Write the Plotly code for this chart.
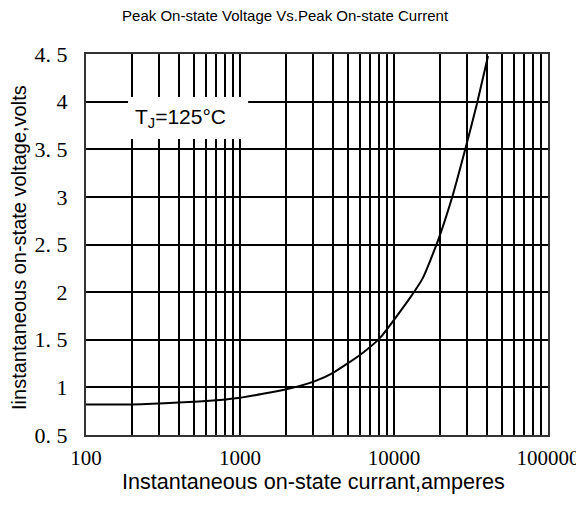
import plotly.graph_objects as go

current = [100, 200, 400, 740, 1000, 2000, 3070, 4020, 6010, 8110, 12700, 15400, 19300, 23800, 28900, 34600, 40800]
voltage = [0.82, 0.82, 0.84, 0.867, 0.89, 0.98, 1.066, 1.153, 1.34, 1.52, 1.94, 2.15, 2.54, 2.99, 3.49, 3.98, 4.48]

x_major = [100, 1000, 10000, 100000]
x_ticks = [m * 10 ** e for e in range(2, 5) for m in range(1, 10)] + [100000]
x_text = [str(v) if v in x_major else "" for v in x_ticks]
y_ticks = [0.5, 1, 1.5, 2, 2.5, 3, 3.5, 4, 4.5]
y_text = ["0. 5", "1", "1. 5", "2", "2. 5", "3", "3. 5", "4", "4. 5"]

title_text = "Peak On-state Voltage Vs.Peak On-state Current"
x_title = "Instantaneous on-state currant,amperes"
y_title = "Iinstantaneous on-state voltage,volts"
label_text = "T<sub>J</sub>=125°C"

fig = go.Figure()
fig.add_trace(go.Scatter(x=current, y=voltage, mode="lines",
                         line=dict(color="black", width=2, shape="spline", smoothing=0.5),
                         showlegend=False, hoverinfo="skip"))

fig.update_layout(
    width=576, height=498,
    margin=dict(l=78, r=36, t=46, b=71, autoexpand=False),
    paper_bgcolor="white", plot_bgcolor="white",
    title=dict(text=title_text, x=0.481, xanchor="center", y=0.984, yanchor="middle",
               font=dict(family="Liberation Sans", size=15, color="black")),
)
fig.update_xaxes(type="log", range=[2, 5], tickvals=x_ticks, ticktext=x_text,
                 ticks="", showgrid=True, gridcolor="black", gridwidth=2, automargin=False,
                 showline=True, linecolor="#333", linewidth=2, mirror=True,
                 ticklabelstandoff=3,
                 tickfont=dict(family="Liberation Serif", size=21, color="black"))
fig.update_yaxes(range=[0.5, 4.5], tickvals=y_ticks, ticktext=y_text,
                 ticks="", showgrid=True, gridcolor="black", gridwidth=2, automargin=False,
                 showline=True, linecolor="#333", linewidth=2, mirror=True,
                 ticklabelstandoff=12,
                 tickfont=dict(family="Liberation Serif", size=22, color="black"))

fig.add_annotation(text=x_title, xref="paper", yref="paper", x=0.4935, y=-0.122,
                   xanchor="center", yanchor="middle", showarrow=False,
                   font=dict(family="Liberation Sans", size=21.6, color="black"))
fig.add_annotation(text=y_title, xref="paper", yref="paper", x=-0.145, y=0.491,
                   xanchor="center", yanchor="middle", textangle=-90, showarrow=False,
                   font=dict(family="Liberation Sans", size=20, color="black"))
fig.add_shape(type="rect", xref="paper", yref="paper",
              x0=0.091, x1=0.351, y0=0.777, y1=0.887,
              fillcolor="white", line=dict(width=0), layer="above")
fig.add_annotation(text=label_text, xref="paper", yref="paper", x=0.102, y=0.832,
                   xanchor="left", yanchor="middle", showarrow=False,
                   font=dict(family="Liberation Sans", size=21, color="black"))

fig.write_html("out.html")
